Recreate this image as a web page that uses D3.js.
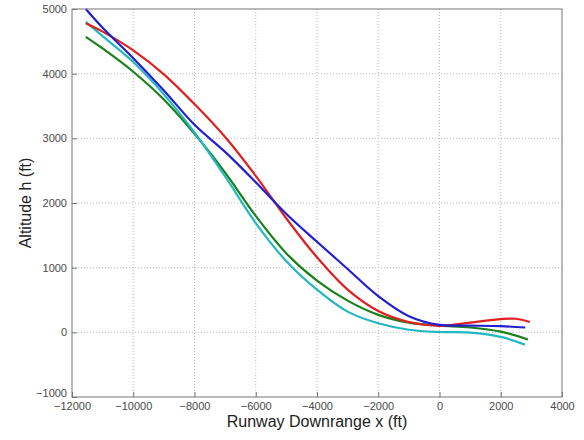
<!DOCTYPE html>
<html lang="en">
<head>
    <meta charset="UTF-8">
    <title>Altitude vs Runway Downrange</title>
    <style>
        body { margin: 0; background: #fff; }
        .tick text {
            font-family: Arial, "Liberation Sans", sans-serif;
            font-size: 11px;
            fill: #4a4a4a;
        }
        .grid line {
            stroke: #bbb;
            stroke-dasharray: 1,2;
        }
        .axis-label {
            font-family: Arial, "Liberation Sans", sans-serif;
            font-size: 16px;
            fill: #222;
        }
        .trace {
            fill: none;
            stroke-width: 2.2px;
        }
    </style>
    <script src="https://d3js.org/d3.v7.min.js"></script>
</head>
<body>
    <script>
        // Values (x and h in ft)
        const blueX  = [-11550, -11000, -10000, -9000, -8000, -7000, -6000, -5000, -4000, -3000, -2000, -1000, 0, 1000, 2000, 2800];
        const blueH  = [5000, 4710, 4240, 3740, 3210, 2790, 2320, 1830, 1400, 980, 560, 250, 115, 105, 95, 75];

        const redX   = [-11550, -11000, -10000, -9000, -8000, -7000, -6000, -5000, -4000, -3000, -2000, -1000, 0, 1000, 2000, 2500, 2950];
        const redH   = [4780, 4650, 4360, 3990, 3530, 3020, 2420, 1760, 1160, 660, 330, 160, 100, 150, 205, 210, 160];

        const greenX = [-11550, -11000, -10000, -9000, -8000, -7000, -6000, -5000, -4000, -3000, -2000, -1000, 0, 1000, 2000, 2890];
        const greenH = [4570, 4390, 4030, 3600, 3070, 2470, 1800, 1220, 800, 490, 270, 150, 105, 75, 10, -110];

        const cyanX  = [-11550, -11000, -10000, -9000, -8000, -7000, -6000, -5000, -4000, -3000, -2000, -1000, 0, 1000, 2000, 2790];
        const cyanH  = [4800, 4580, 4180, 3680, 3090, 2410, 1690, 1100, 660, 320, 140, 40, 5, -5, -70, -190];

        const xTicks = [-12000, -10000, -8000, -6000, -4000, -2000, 0, 2000, 4000];
        const yTicks = [-1000, 0, 1000, 2000, 3000, 4000, 5000];

        const series = [
            { x: greenX, h: greenH, color: "#1a801a" },
            { x: cyanX,  h: cyanH,  color: "#22b8c0" },
            { x: redX,   h: redH,   color: "#e02020" },
            { x: blueX,  h: blueH,  color: "#2020d0" }
        ];

        const width = 584, height = 440;
        const margin = { left: 72, right: 22, top: 9, bottom: 43 };

        const svg = d3.select("body").append("svg")
            .attr("width", width)
            .attr("height", height);

        const xScale = d3.scaleLinear()
            .domain([-12000, 4000])
            .range([margin.left, width - margin.right]);
        const yScale = d3.scaleLinear()
            .domain([-1000, 5000])
            .range([height - margin.bottom, margin.top]);

        // Grid
        svg.append("g").attr("class", "grid")
            .selectAll("line")
            .data(xTicks.slice(1, -1))
            .enter().append("line")
            .attr("x1", d => xScale(d)).attr("x2", d => xScale(d))
            .attr("y1", yScale(-1000)).attr("y2", yScale(5000));
        svg.append("g").attr("class", "grid")
            .selectAll("line")
            .data(yTicks.slice(1, -1))
            .enter().append("line")
            .attr("x1", xScale(-12000)).attr("x2", xScale(4000))
            .attr("y1", d => yScale(d)).attr("y2", d => yScale(d));

        // Traces
        const line = d3.line()
            .x(d => xScale(d[0]))
            .y(d => yScale(d[1]))
            .curve(d3.curveCatmullRom.alpha(0.5));

        svg.append("g").selectAll("path")
            .data(series)
            .enter().append("path")
            .attr("class", "trace")
            .attr("stroke", d => d.color)
            .attr("d", d => line(d.x.map((v, i) => [v, d.h[i]])));

        // Axes, ticks pointing inward
        const xAxis = d3.axisBottom(xScale).tickValues(xTicks).tickSize(-5).tickPadding(5).tickFormat(d3.format("d"));
        const yAxis = d3.axisLeft(yScale).tickValues(yTicks).tickSize(-5).tickPadding(5).tickFormat(d3.format("d"));

        const gx = svg.append("g")
            .attr("transform", `translate(0,${yScale(-1000)})`)
            .call(xAxis);
        const gy = svg.append("g")
            .attr("transform", `translate(${xScale(-12000)},0)`)
            .call(yAxis);
        [gx, gy].forEach(g => {
            g.select(".domain").remove();
            g.selectAll(".tick line").attr("stroke", "#777");
        });
        // lift the lowest y label a little so it clears "-12000"
        gy.selectAll(".tick text").filter(d => d === -1000).attr("dy", "-0.05em");

        // Box
        svg.append("rect")
            .attr("x", xScale(-12000))
            .attr("y", yScale(5000))
            .attr("width", xScale(4000) - xScale(-12000))
            .attr("height", yScale(-1000) - yScale(5000))
            .attr("fill", "none")
            .attr("stroke", "#777")
            .attr("stroke-width", 1);

        // Axis labels
        svg.append("text")
            .attr("class", "axis-label")
            .attr("x", (xScale(-12000) + xScale(4000)) / 2)
            .attr("y", 427)
            .attr("text-anchor", "middle")
            .text("Runway Downrange x (ft)");
        svg.append("text")
            .attr("class", "axis-label")
            .attr("transform", `translate(31,${(yScale(-1000) + yScale(5000)) / 2}) rotate(-90)`)
            .attr("text-anchor", "middle")
            .text("Altitude h (ft)");
    </script>
</body>
</html>
